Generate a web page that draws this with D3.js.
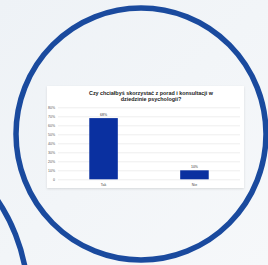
<!DOCTYPE html>
<html><head><meta charset="utf-8">
<script src="https://cdn.jsdelivr.net/npm/d3@7"></script>
<style>html,body{margin:0;padding:0;background:#f2f5f8;overflow:hidden}</style>
</head><body><svg id="c" width="268" height="265"></svg>
<script>
const categories = ["Tak", "Nie"];
const values = [68, 10];
const valueLabels = ["68%", "10%"];
const yTicks = [0, 10, 20, 30, 40, 50, 60, 70, 80];
const titleLines = ["Czy chciałbyś skorzystać z porad i konsultacji w", "dziedzinie psychologii?"];

const svg = d3.select("#c");
const defs = svg.append("defs");
const grad = defs.append("linearGradient").attr("id","bg").attr("x1","0").attr("y1","0").attr("x2","1").attr("y2","1");
grad.append("stop").attr("offset","0").attr("stop-color","#eef2f6");
grad.append("stop").attr("offset","1").attr("stop-color","#f6f8fa");
svg.append("rect").attr("width",268).attr("height",265).attr("fill","url(#bg)");
const f = defs.append("filter").attr("id","sh").attr("x","-10%").attr("y","-10%").attr("width","120%").attr("height","130%");
f.append("feDropShadow").attr("dx",0).attr("dy",1).attr("stdDeviation",1).attr("flood-color","#000").attr("flood-opacity",0.12);

// decorative rings
svg.append("ellipse").attr("cx",141).attr("cy",134).attr("rx",125).attr("ry",126)
  .attr("fill","none").attr("stroke","#1a4a9e").attr("stroke-width",5.5);
svg.append("circle").attr("cx",-150).attr("cy",300).attr("r",178)
  .attr("fill","none").attr("stroke","#1a4a9e").attr("stroke-width",5.5);

// card
svg.append("rect").attr("x",47).attr("y",86).attr("width",197).attr("height",102)
  .attr("fill","#ffffff").attr("filter","url(#sh)");

const g = svg.append("g");
g.selectAll("text.t").data(titleLines).join("text").attr("class","t")
  .attr("x",151).attr("y",(d,i)=>95+i*6).attr("text-anchor","middle")
  .attr("font-family","Liberation Sans, Arial, sans-serif").attr("font-size",5.4).attr("font-weight","bold")
  .attr("fill","#222").text(d=>d);

const y = d3.scaleLinear().domain([0,80]).range([179.3,107.3]);
const x = d3.scaleBand().domain(categories).range([58,240]).paddingInner(0.686).paddingOuter(0.344);

const yAxis = d3.axisLeft(y).tickValues(yTicks).tickSize(-182).tickFormat(d=> d===0 ? "0" : d + "%");
const ag = g.append("g").attr("transform","translate(58,0)").call(yAxis);
ag.select(".domain").remove();
ag.selectAll(".tick line").attr("stroke","#e2e2e2").attr("stroke-width",0.6);
ag.selectAll(".tick text").attr("x",-3).attr("font-size",3.5).attr("fill","#555")
  .attr("font-family","Liberation Sans, Arial, sans-serif");

g.selectAll("rect.bar").data(values).join("rect").attr("class","bar")
  .attr("x",(d,i)=>x(categories[i])).attr("width",x.bandwidth())
  .attr("y",d=>y(d)).attr("height",d=>y(0)-y(d)).attr("fill","#0a30a0");

g.selectAll("text.v").data(values).join("text").attr("class","v")
  .attr("x",(d,i)=>x(categories[i])+x.bandwidth()/2).attr("y",d=>y(d)-2)
  .attr("text-anchor","middle").attr("font-size",3.5).attr("fill","#333")
  .attr("font-family","Liberation Sans, Arial, sans-serif").text((d,i)=>valueLabels[i]);

const xAxis = d3.axisBottom(x).tickSize(0).tickPadding(4);
const xg = g.append("g").attr("transform","translate(0,179.3)").call(xAxis);
xg.select(".domain").remove();
xg.selectAll(".tick text").attr("font-size",3.5).attr("fill","#444")
  .attr("font-family","Liberation Sans, Arial, sans-serif");
</script></body></html>
